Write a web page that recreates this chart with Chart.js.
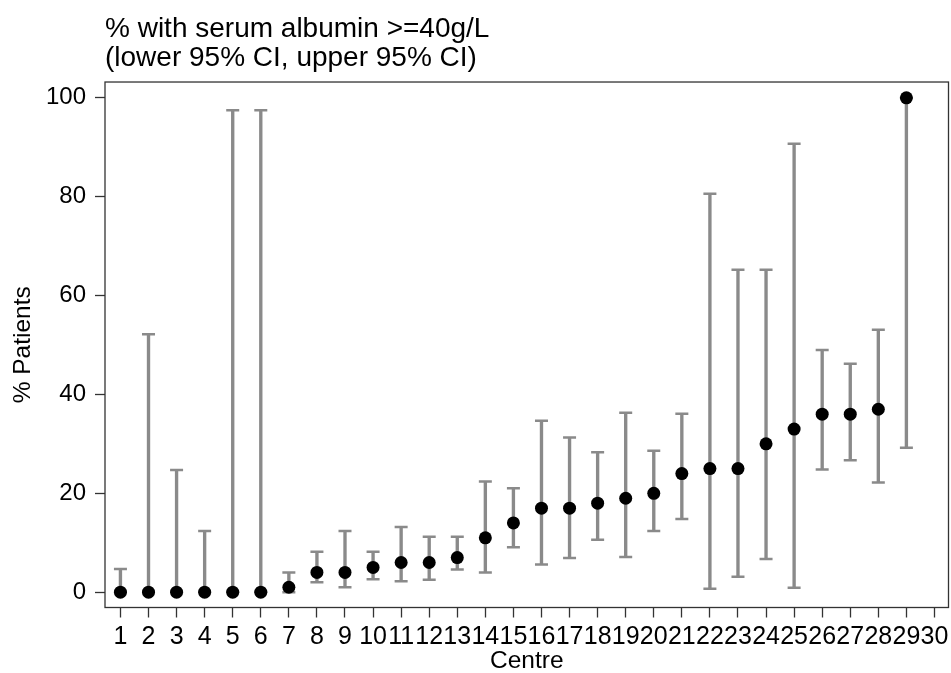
<!DOCTYPE html>
<html>
<head>
<meta charset="utf-8">
<script src="https://cdn.jsdelivr.net/npm/chart.js@4/dist/chart.umd.min.js"></script>
<style>
html,body{margin:0;padding:0;background:#fff;}
#wrap{width:951px;height:673px;}
</style>
</head>
<body>
<div id="wrap"><canvas id="c" width="951" height="673"></canvas></div>
<script>
// ---- data ----
const centres = [1,2,3,4,5,6,7,8,9,10,11,12,13,14,15,16,17,18,19,20,21,22,23,24,25,26,27,28,29];
const percent = [0,0,0,0,0,0,1,4,4,5,6,6,7,11,14,17,17,18,19,20,24,25,25,30,33,36,36,37,100];
const lowerCI = [0,0,0,0,0,0,0,2,1,2.6,2.2,2.5,4.6,4,9.1,5.6,6.9,10.6,7.1,12.4,14.8,0.7,3.1,6.7,0.9,24.8,26.7,22.2,29.2];
const upperCI = [4.7,52.2,24.7,12.4,97.5,97.5,4,8.2,12.4,8.2,13.2,11.2,11.2,22.4,21,34.7,31.3,28.3,36.3,28.6,36.1,80.6,65.2,65.2,90.7,49,46.2,53.1,100];
const xTickLabels = [1,2,3,4,5,6,7,8,9,10,11,12,13,14,15,16,17,18,19,20,21,22,23,24,25,26,27,28,29,30];
const yTickLabels = [0,20,40,60,80,100];
const titleLines = ['% with serum albumin >=40g/L', '(lower 95% CI, upper 95% CI)'];
const xTitle = 'Centre';
const yTitle = '% Patients';

const GREY = '#8a8a8a';
const FRAME = '#333333';

Chart.defaults.font.family = '"Liberation Sans", Arial, Helvetica, sans-serif';
Chart.defaults.color = '#000';

const framePlugin = {
  id: 'frame',
  beforeDatasetsDraw(chart) {
    const {ctx, chartArea: a} = chart;
    ctx.save();
    ctx.strokeStyle = FRAME;
    ctx.lineWidth = 1.3;
    ctx.strokeRect(a.left, a.top, a.right - a.left, a.bottom - a.top);
    ctx.restore();
  }
};

new Chart(document.getElementById('c'), {
  type: 'scatter',
  data: {
    datasets: [
      {
        type: 'scatter',
        label: 'percent',
        data: centres.map((c, i) => ({x: c, y: percent[i]})),
        backgroundColor: '#000',
        borderWidth: 0,
        pointRadius: 6.5,
        pointHoverRadius: 6.5,
        order: 0
      },
      {
        type: 'scatter',
        label: 'lower cap',
        data: centres.map((c, i) => ({x: c, y: lowerCI[i]})),
        pointStyle: 'line',
        pointRadius: 6.5,
        pointBorderWidth: 2.5,
        borderColor: GREY,
        backgroundColor: GREY,
        order: 1
      },
      {
        type: 'scatter',
        label: 'upper cap',
        data: centres.map((c, i) => ({x: c, y: upperCI[i]})),
        pointStyle: 'line',
        pointRadius: 6.5,
        pointBorderWidth: 2.5,
        borderColor: GREY,
        backgroundColor: GREY,
        order: 1
      },
      {
        type: 'bar',
        label: 'CI',
        data: centres.map((c, i) => ({x: c, y: [lowerCI[i], upperCI[i]]})),
        backgroundColor: GREY,
        borderWidth: 0,
        barThickness: 2.7,
        order: 2
      }
    ]
  },
  options: {
    responsive: false,
    animation: false,
    devicePixelRatio: 1,
    layout: {padding: {top: 0, left: 0, right: 2.5, bottom: 0}, autoPadding: false},
    plugins: {
      legend: {display: false},
      tooltip: {enabled: false},
      title: {
        display: true,
        text: titleLines,
        align: 'start',
        fullSize: false,
        color: '#000',
        font: {size: 28, weight: 'normal', lineHeight: 1.036},
        padding: {top: 14.5, bottom: 9.5}
      }
    },
    scales: {
      x: {
        type: 'linear',
        min: 0.45,
        max: 30.5,
        offset: false,
        grid: {display: true, drawOnChartArea: false, drawTicks: true, tickLength: 10, tickColor: FRAME, tickWidth: 1.3, offset: false},
        border: {display: false},
        ticks: {autoSkip: false, maxRotation: 0, minRotation: 0, padding: 5, color: '#000', font: {size: 25}, callback: v => String(v)},
        afterBuildTicks: s => { s.ticks = xTickLabels.map(v => ({value: v})); },
        afterFit: s => { s.height = 65.5; s.paddingLeft = 0; s.paddingRight = 0; },
        title: {display: true, text: xTitle, color: '#000', font: {size: 24.5, lineHeight: 0.94}, padding: 0}
      },
      y: {
        type: 'linear',
        min: -3.1,
        max: 103.2,
        grid: {display: true, drawOnChartArea: false, drawTicks: true, tickLength: 10, tickColor: FRAME, tickWidth: 1.3},
        border: {display: false},
        ticks: {padding: 9, color: '#000', font: {size: 24}, callback: v => String(v)},
        afterBuildTicks: s => { s.ticks = yTickLabels.map(v => ({value: v})); },
        afterFit: s => { s.width = 105; s.paddingTop = 0; s.paddingBottom = 0; },
        title: {display: true, text: yTitle, color: '#000', font: {size: 24.5}, padding: {top: 8.3, bottom: 0}}
      }
    }
  },
  plugins: [framePlugin]
});
</script>
</body>
</html>
